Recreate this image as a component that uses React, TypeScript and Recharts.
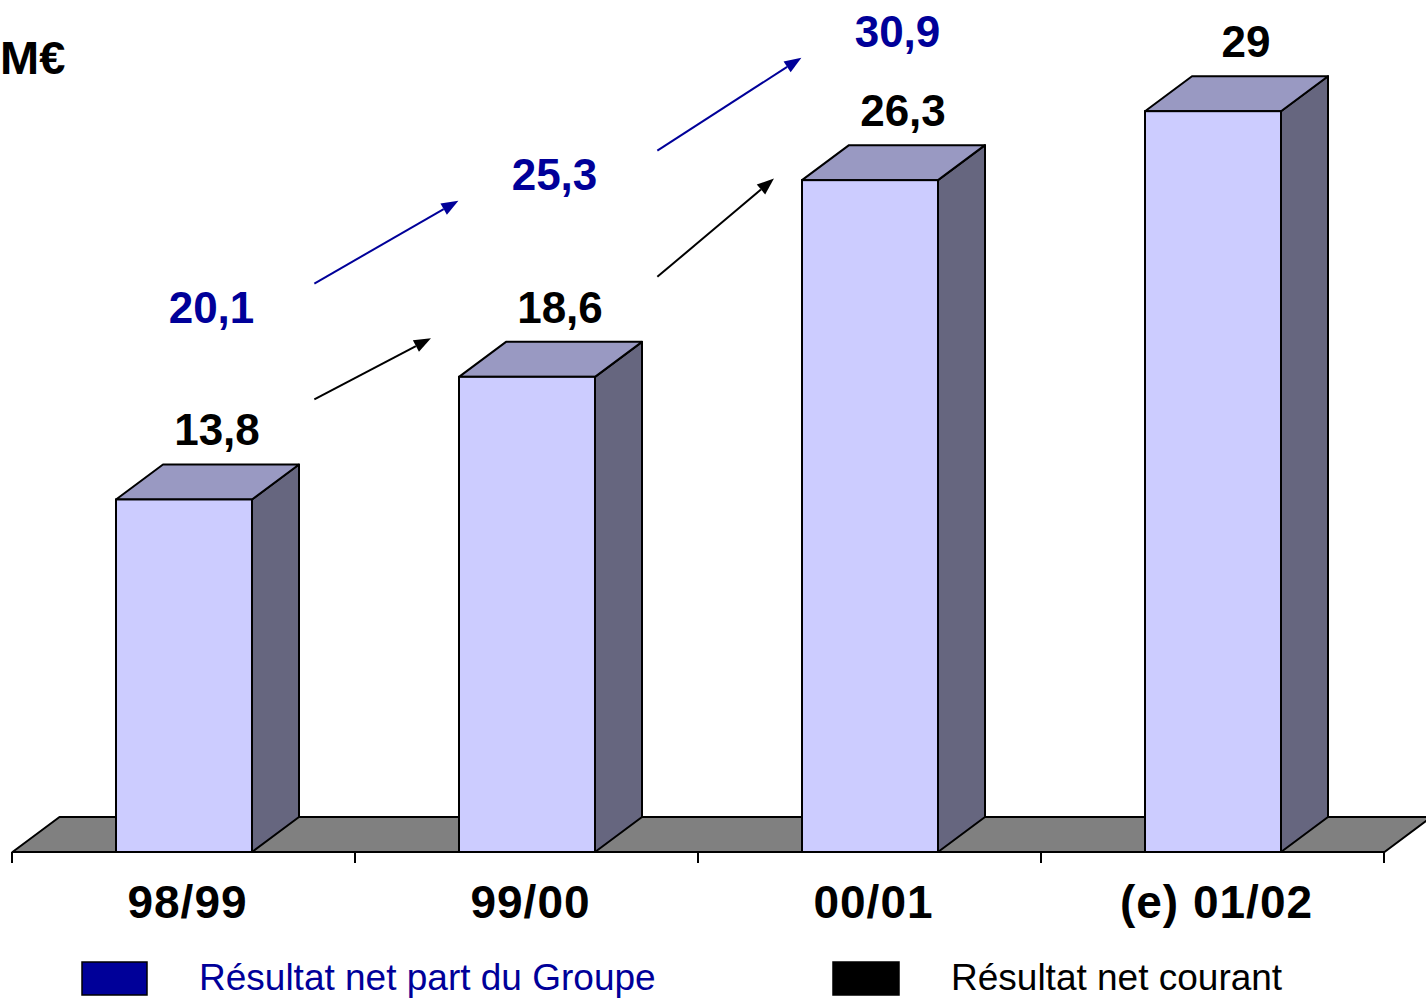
import React from 'react';
import { ComposedChart, Bar, Line, XAxis, YAxis, LabelList, Legend } from 'recharts';

const categories = ['98/99', '99/00', '00/01', '(e) 01/02'];
const resultatCourant = [13.8, 18.6, 26.3, 29];
const resultatGroupe: (number | null)[] = [20.1, 25.3, 30.9, null];
const legendNames = ['Résultat net part du Groupe', 'Résultat net courant'];
const legendColors = ['#000099', '#000000'];
const unitLabel = 'M€';

const data = categories.map((c, i) => ({ cat: c, courant: resultatCourant[i], groupe: resultatGroupe[i] }));

const W = 1426;
const H = 1000;
const MARGIN = { top: 9, right: 42, left: 12, bottom: 0 };
const PLOT_W = W - MARGIN.left - MARGIN.right;
const BAND = PLOT_W / categories.length;
const DX = 47;
const DY = 35;
const FONT = '"Liberation Sans", Arial, Helvetica, sans-serif';
const BLUE = '#000099';

const fmt = (v: number) => String(v).replace('.', ',');

const Arrow = ({ x1, y1, x2, y2, color }: { x1: number; y1: number; x2: number; y2: number; color: string }) => {
  const ang = Math.atan2(y2 - y1, x2 - x1);
  const len = 17;
  const hw = 6.5;
  const bx = x2 - len * Math.cos(ang);
  const by = y2 - len * Math.sin(ang);
  const px = -Math.sin(ang) * hw;
  const py = Math.cos(ang) * hw;
  return (
    <g>
      <line x1={x1} y1={y1} x2={bx} y2={by} stroke={color} strokeWidth={2} />
      <polygon points={`${x2},${y2} ${bx + px},${by + py} ${bx - px},${by - py}`} fill={color} />
    </g>
  );
};

const Bar3D = (props: any) => {
  const { x, y, width, height, payload } = props;
  let index = props.index;
  if (index == null && payload) index = categories.indexOf(payload.cat);
  const b = y + height;
  let floor = null;
  if (index === 0) {
    const c0 = x + width / 2;
    const L = c0 - BAND / 2;
    const R = L + PLOT_W;
    floor = (
      <polygon
        points={`${L},${b} ${R},${b} ${R + DX},${b - DY} ${L + DX},${b - DY}`}
        fill="#808080"
        stroke="#000"
        strokeWidth={2}
        strokeLinejoin="round"
      />
    );
  }
  return (
    <g>
      {floor}
      <polygon
        points={`${x + width},${y} ${x + width + DX},${y - DY} ${x + width + DX},${b - DY} ${x + width},${b}`}
        fill="#66667F"
        stroke="#000"
        strokeWidth={2}
        strokeLinejoin="round"
      />
      <polygon
        points={`${x},${y} ${x + DX},${y - DY} ${x + width + DX},${y - DY} ${x + width},${y}`}
        fill="#9999C2"
        stroke="#000"
        strokeWidth={2}
        strokeLinejoin="round"
      />
      <rect x={x} y={y} width={width} height={height} fill="#CCCCFF" stroke="#000" strokeWidth={2} />
    </g>
  );
};

const CourantLabel = (props: any) => {
  const vb = props.viewBox || {};
  const x = props.x ?? vb.x;
  const y = props.y ?? vb.y;
  const width = props.width ?? vb.width;
  const height = props.height ?? vb.height;
  const value = Number(props.value);
  let i = props.index;
  if (i == null || i < 0) i = resultatCourant.indexOf(value);
  const cx = x + width / 2;
  const base = y + height;
  const k = height / value;
  const py = (v: number) => base - v * k;
  const n = resultatCourant.length;
  const items: any[] = [];
  items.push(
    <text
      key="t"
      x={cx + 33}
      y={y - 54}
      textAnchor="middle"
      fontFamily={FONT}
      fontWeight="bold"
      fontSize={44}
      fill="#000"
    >
      {fmt(value)}
    </text>
  );
  if (i < n - 1) {
    const g0 = resultatGroupe[i];
    const g1 = resultatGroupe[i + 1];
    if (g0 != null && g1 != null) {
      const v0 = resultatCourant[i];
      const v1 = resultatCourant[i + 1];
      items.push(
        <Arrow
          key="a1"
          x1={cx + 0.38 * BAND}
          y1={py(v0) - 100}
          x2={cx + 0.72 * BAND}
          y2={py((v0 + v1) / 2) - 100}
          color="#000"
        />
      );
      items.push(
        <Arrow
          key="a2"
          x1={cx + 0.38 * BAND}
          y1={py(g0) - 55}
          x2={cx + 0.8 * BAND}
          y2={py(g1) - 5}
          color={BLUE}
        />
      );
    }
  }
  return <g>{items}</g>;
};

const GroupeLabel = (props: any) => {
  const vb = props.viewBox || {};
  const x = props.x ?? vb.x;
  const y = props.y ?? vb.y;
  if (props.value == null || props.value === '' || x == null || y == null || isNaN(y)) return null;
  return (
    <text
      x={x + 28}
      y={y - 16}
      textAnchor="middle"
      fontFamily={FONT}
      fontWeight="bold"
      fontSize={44}
      fill={BLUE}
    >
      {fmt(Number(props.value))}
    </text>
  );
};

const AxisTick = (props: any) => {
  const { x, y, payload, index } = props;
  const left = x - BAND / 2;
  const right = x + BAND / 2;
  const last = index === categories.length - 1 || payload?.value === categories[categories.length - 1];
  return (
    <g>
      <line x1={left} y1={y} x2={left} y2={y + 11} stroke="#000" strokeWidth={2} />
      {last ? <line x1={right} y1={y} x2={right} y2={y + 11} stroke="#000" strokeWidth={2} /> : null}
      <text
        x={x + 4}
        y={y + 66}
        textAnchor="middle"
        fontFamily={FONT}
        fontWeight="bold"
        fontSize={46}
        letterSpacing={1}
        fill="#000"
      >
        {payload.value}
      </text>
    </g>
  );
};

const LegendContent = () => (
  <svg width={W} height={48} style={{ display: 'block' }}>
    <rect x={82} y={10} width={65} height={33} fill={legendColors[0]} stroke="#000" strokeWidth={1.5} />
    <text x={199} y={38} fontFamily={FONT} fontSize={37} fill={legendColors[0]}>
      {legendNames[0]}
    </text>
    <rect x={833} y={10} width={66} height={33} fill={legendColors[1]} stroke="#000" strokeWidth={1.5} />
    <text x={951} y={38} fontFamily={FONT} fontSize={37} fill={legendColors[1]}>
      {legendNames[1]}
    </text>
  </svg>
);

export default function App() {
  return (
    <div style={{ position: 'absolute', left: 0, top: 0, width: W, height: H, background: '#fff' }}>
      <ComposedChart width={W} height={H} data={data} margin={MARGIN}>
        <XAxis
          dataKey="cat"
          interval={0}
          height={100}
          tickLine={false}
          tickSize={0}
          tickMargin={0}
          axisLine={{ stroke: '#000', strokeWidth: 2 }}
          tick={<AxisTick />}
        />
        <YAxis hide domain={[0, 33]} />
        <Bar dataKey="courant" barSize={136} shape={<Bar3D />} isAnimationActive={false}>
          <LabelList dataKey="courant" content={<CourantLabel />} />
        </Bar>
        <Line
          dataKey="groupe"
          stroke="none"
          dot={false}
          activeDot={false}
          isAnimationActive={false}
          connectNulls={false}
        >
          <LabelList dataKey="groupe" content={<GroupeLabel />} />
        </Line>
        <Legend
          verticalAlign="bottom"
          height={48}
          content={<LegendContent />}
          wrapperStyle={{ left: 0, bottom: 0, width: W, height: 48 }}
        />
      </ComposedChart>
      <svg width={120} height={100} style={{ position: 'absolute', left: 0, top: 0 }}>
        <text x={0} y={74} fontFamily={FONT} fontWeight="bold" fontSize={47} fill="#000">
          {unitLabel}
        </text>
      </svg>
    </div>
  );
}
